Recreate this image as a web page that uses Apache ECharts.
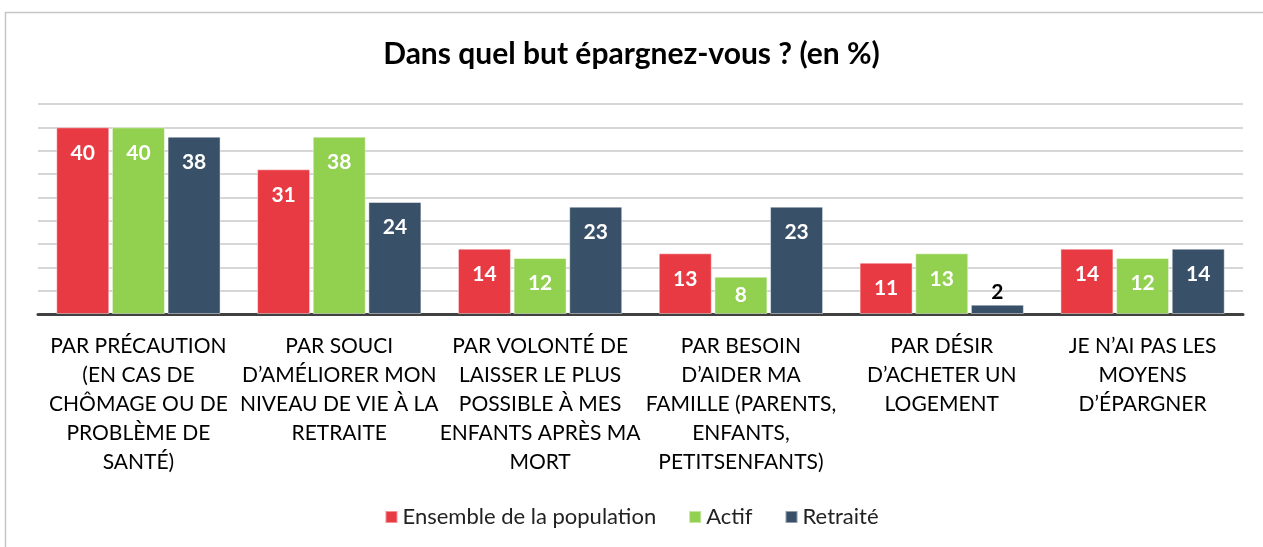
<!DOCTYPE html>
<html>
<head>
<meta charset="utf-8">
<script src="https://cdn.jsdelivr.net/npm/echarts@6/dist/echarts.min.js"></script>
<style>
  html, body { margin: 0; padding: 0; background: #fff; }
  #chart { width: 1263px; height: 547px; }
</style>
</head>
<body>
<div id="chart"></div>
<script>
// categories and values
const categories = [
  "PAR PRÉCAUTION\n(EN CAS DE\nCHÔMAGE OU DE\nPROBLÈME DE\nSANTÉ)",
  "PAR SOUCI\nD’AMÉLIORER MON\nNIVEAU DE VIE À LA\nRETRAITE",
  "PAR VOLONTÉ DE\nLAISSER LE PLUS\nPOSSIBLE À MES\nENFANTS APRÈS MA\nMORT",
  "PAR BESOIN\nD’AIDER MA\nFAMILLE (PARENTS,\nENFANTS,\nPETITSENFANTS)",
  "PAR DÉSIR\nD’ACHETER UN\nLOGEMENT",
  "JE N’AI PAS LES\nMOYENS\nD’ÉPARGNER",
];
const ensemble = [40, 31, 14, 13, 11, 14];
const actif = [40, 38, 12, 8, 13, 12];
const retraite = [38, 24, 23, 23, 2, 14];
const seriesNames = ["Ensemble de la population", "Actif", "Retraité"];
const seriesColors = ["#E83A43", "#92D050", "#385068"];

const FONT = "Lato, 'Open Sans', sans-serif";

function barData(values) {
  return values.map((v) => {
    if (v <= 2) {
      return { value: v, label: { position: "top", distance: 2, color: "#000" } };
    }
    if (v < 10) {
      return { value: v, label: { position: "inside" } };
    }
    return v;
  });
}

function barSeries(name, values, color) {
  return {
    name,
    type: "bar",
    data: barData(values),
    barWidth: 53,
    barGap: "5%",
    itemStyle: { color, borderColor: "rgba(255,255,255,0.45)", borderWidth: 1 },
    label: {
      show: true,
      position: "insideTop",
      distance: 15,
      color: "#fff",
      fontWeight: "bold",
      fontSize: 21,
      fontFamily: FONT,
    },
  };
}

const chart = echarts.init(document.getElementById("chart"));
chart.setOption({
  animation: false,
  textStyle: { fontFamily: FONT },
  graphic: [
    {
      type: "rect",
      left: 3,
      top: 10,
      shape: { width: 1280, height: 560 },
      style: { fill: "none", stroke: "#c6c6c6", lineWidth: 1.5 },
      silent: true,
    },
  ],
  title: {
    text: "Dans quel but épargnez-vous ? (en %)",
    left: "center",
    top: 34,
    textStyle: { fontFamily: FONT, fontWeight: "bold", fontSize: 30, color: "#000" },
  },
  legend: {
    data: seriesNames,
    bottom: 14,
    left: "center",
    itemWidth: 12,
    itemHeight: 12,
    itemGap: 32,
    icon: "rect",
    textStyle: { fontFamily: FONT, fontSize: 22, color: "#222" },
  },
  grid: { left: 38, right: 20, top: 104, bottom: 233 },
  xAxis: {
    type: "category",
    data: categories,
    axisLine: { lineStyle: { color: "#404040", width: 3 } },
    axisTick: { show: false },
    axisLabel: {
      interval: 0,
      color: "#000",
      fontSize: 21,
      lineHeight: 29,
      margin: 18,
      fontFamily: FONT,
    },
  },
  yAxis: {
    type: "value",
    min: 0,
    max: 45,
    interval: 5,
    axisLabel: { show: false },
    axisLine: { show: false },
    axisTick: { show: false },
    splitLine: { lineStyle: { color: "#c8c8c8", width: 1.5 } },
  },
  series: [
    barSeries(seriesNames[0], ensemble, seriesColors[0]),
    barSeries(seriesNames[1], actif, seriesColors[1]),
    barSeries(seriesNames[2], retraite, seriesColors[2]),
  ],
});
</script>
</body>
</html>
